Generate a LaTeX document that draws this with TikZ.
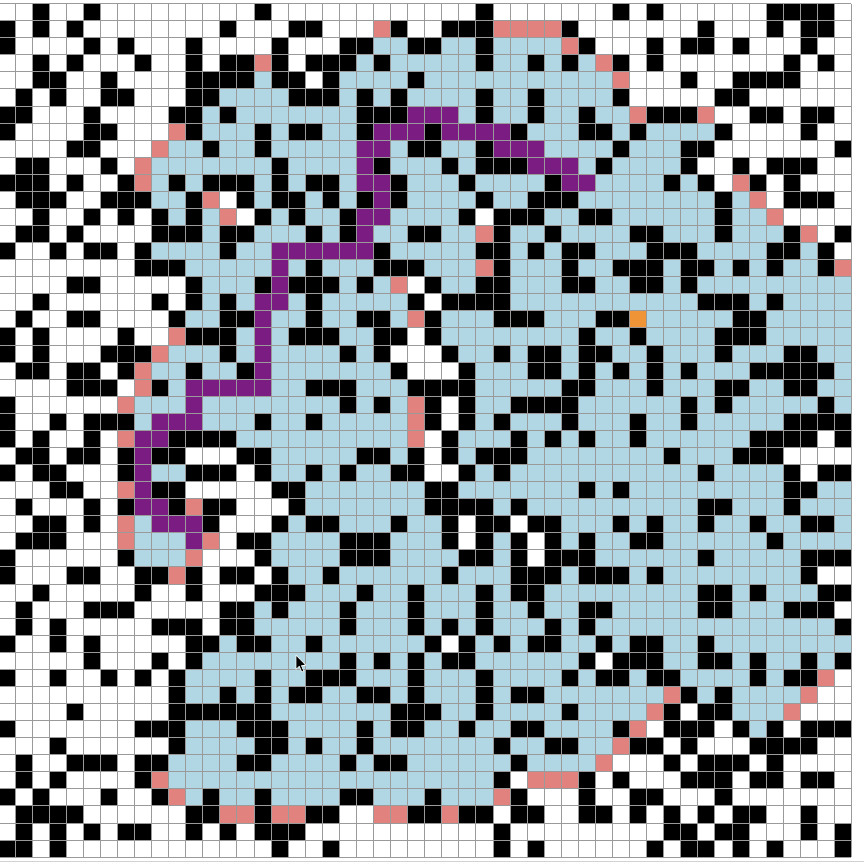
\documentclass[tikz,border=0pt]{standalone}
\definecolor{cellk}{HTML}{000000}
\definecolor{cellb}{HTML}{B0D7E3}
\definecolor{cellr}{HTML}{E2827F}
\definecolor{cellp}{HTML}{7B1C82}
\definecolor{cello}{HTML}{F09438}
\definecolor{gridgray}{HTML}{9A9A9A}
\newcount\cellc
\def\gridrow#1#2{\def\currow{#1}\cellc=0 \gridrowloop#2\relax}
\def\gridrowloop#1{\ifx#1\relax\else\paintcell#1\advance\cellc by 1 \expandafter\gridrowloop\fi}
\def\paintcell#1{\if#1w\else\fill[cell#1] ({-2.07+\the\cellc*17.07},{3.6+\currow*17.07}) rectangle ++(17.07,17.07);\fi}
\tikzset{gridline/.style={draw=gridgray,line width=0.9pt}}
\begin{document}
\begin{tikzpicture}[x=1pt,y=-1pt]
\useasboundingbox (0,0) rectangle (864,864);
\fill[white] (0,0) rectangle (864,864);
\gridrow{0}{wwkwwkwwwwwwwwwkw wwwwwwwwwwwkwwwww wwkwkwwwwwwkkkkw}
\gridrow{1}{kwkwkwwwwwwwwkwww kkwwwrkwwkkkrrrrk wwwwwwwkwwwkwkkw}
\gridrow{2}{kwwwwkwkwwwkwwwwk wwwkkbbkkbbkbbbbr kwwwkwkkwkwwwkww}
\gridrow{3}{wwkwkwwwkwwkwkkrk wkkkbkbbbbbkbbkbk brkwkwwwwwwwkwkw}
\gridrow{4}{wwkkwwkwwwwkkkkbk kwkbbbbkbbbbbbbbb bbrwwwkwwkkkkwww}
\gridrow{5}{wkwkwwkkwwwkkbbbb kkkbkbkbbbbkbbkbb bbkwwwwwkkwwwwww}
\gridrow{6}{kkwwwkwwwwkkbkbbb bbbbkkkpppbkbbkbb kbbrkkkrwwkkwkkw}
\gridrow{7}{kwwwwkkwwwrkbbbkb kkbbkpppkppppkbbb kkbkbbbbkwwwwkww}
\gridrow{8}{wwwwkkwwwrbbkbbkb bbbbppbkkbbkpppbb bbkbbbkkwwwwwwwk}
\gridrow{9}{wkkwwwkwrbbbbbbbk bbbbpkbbbkbkkkppp bkbbbbkwwkwkkkww}
\gridrow{10}{kkkwkwwkrbkbkkkbk bkkbppkbbbkbbbbkp pbbbbkbkwrkwkwww}
\gridrow{11}{wkkkwwkkkbbkrwkbk kbkbkpkbbbbkbbkkk bbbbbbbbkbrwkkkw}
\gridrow{12}{wwkwwkwkwkbkbrwkb kbbkppbbbbkwkkkbb kkbbbbbbkbbrwwww}
\gridrow{13}{wkkwkwwwwkkkbkkbb bkbkpbbkkbbrkbbkb bbbkkbbbkbbbkrwk}
\gridrow{14}{kwwkwkkwkbbbbkbbp pppppkbbbbbkkbkbk kbbbkkkbbbbkkbkw}
\gridrow{15}{wwwwwwwwkkkbbbbbp bkbbbkkkbbbrkbbbk bbkkkbkkbkbkbbkr}
\gridrow{16}{wwwwkkwwwwwkbbbkp kkkbkbrwkbbkkbbbk kbbkkbkbbbbbbbbb}
\gridrow{17}{wwkwwwwwwkwkbkbpp bkbbbbbkwkkkkbbbb bbbbbbbkkkbkbbbb}
\gridrow{18}{wkwwkkwwwwkbbkkpb bkbbkkbrkbbbkkkbb bkkobbbbbkkbbbbb}
\gridrow{19}{kwkwwwwkwwrkkkbpb kkkbbkkwkbbbbbbbb kbbkbbbbkkkbbbbb}
\gridrow{20}{kwkwwwkkkrbbbkbpb bbbkbkwwwkbbkbkkb kkbbkbbbkbbbkkbb}
\gridrow{21}{wkkwkkwkrbbkbbkpb bbbbbbkwwwkbbbkkb kbkbkbkbbbkkkkkb}
\gridrow{22}{wwwwkkkwrkbpppppb bkkkbbbkkkkbbbbbk kbbbkbbbkkbbkkbb}
\gridrow{23}{kwwwwwwrbbbpbbbbb bbbkbkbrkwkbbkkkk bbbbbbkbkbbbbbkb}
\gridrow{24}{kwwkwkkkbpppbbbkb bkbbbbbrkwkbkbbbk bbbkbbkbbbbbkkkk}
\gridrow{25}{kwkwwkwrppkkkkbbb bbbbbbbrwkbbbkbkb kbbkbbbbbbkkkkwk}
\gridrow{26}{wkkwkkwkpkkwwwkkb bbbbkkbkwkbkkkbbb bbbbbkbbbkkkwwww}
\gridrow{27}{kwkkwwwkpbbkkkwkb bkbkbbkkwwkbkbbbb bbbbbbbkbbbbkwkk}
\gridrow{28}{wwwkkwwrpkkwwwwwk kbbbbbbbkkbbbbbbb kbkbbbbbbbbbkkbb}
\gridrow{29}{wkwwwkwkppkrkkwww kbbbbbbbkkkkbkbbb bbbbbbbkkbbbkbbb}
\gridrow{30}{wwkkwkwrbpppkwwwk bkkbbbkbbkwkkwkkb bbkbkbbkbbkbbkkb}
\gridrow{31}{wkkkwwwrbbbprwkkb bbbkkkbbbkwkbkwkb kbbkkbbbbbbkbbbb}
\gridrow{32}{kwwwwwwkbbbrwwwkb bbbkkkbbbbkkbkwkk kbbbbbbkbbbbbkkk}
\gridrow{33}{kwwwkkwwkkrkwkkwk bbkbbbbbbkbbbkkkb kkkbkbbbbbbbbkww}
\gridrow{34}{wwkwwwwwkwwkwwwkk kbbbkbbkbbbkbkkbb bbbbbbbkkbkbbbkk}
\gridrow{35}{wkwwwkkkwwwwwkkbk bbbkbbbkbbbkbbkbb kkbbbbbkkbbbkkkw}
\gridrow{36}{wkwkwwwwwkkkwkkbb bbbkbbbkbkbkbbbkb kbbbbbbbbbbbbbbk}
\gridrow{37}{kwwkwkwwwwwkkbkkb bkbbbbbbkwkbkbkkb bkbkkbbkbbbbbbbb}
\gridrow{38}{wwwwwkwwwkwkbbbbb bbbkbkbkbkkbbbbbb kwkkkbbkkbkbbkbk}
\gridrow{39}{kwwkwwkwkwkbbbbkb bkkkbbbkbbbkbbbbk bkkbkkbbbbkbkkrw}
\gridrow{40}{wwwwwwwwwwkbbkbkb kkbbkkbkbbbkbkkbb bbbbbrkbkbbbbrww}
\gridrow{41}{wwwwkwwwwwkkkkkkb bbbbbbkkkbbkbbbbk bbbbrkwkkbbbrwww}
\gridrow{42}{kwwwwwwwkkkbbbkkk bbbbkbkkbbkbbkkbb bbkrwkkkwkbkwkkk}
\gridrow{43}{wwwkwwwwwwkbbbbkk bkbbkbbbbbbbkbbkk bbrkkwkwwwkkkkww}
\gridrow{44}{wkwwkkkwkkbbbbkkb bbbkbkkbbbbbbkbbb brwwwkwkkkwkwwww}
\gridrow{45}{wkwkwwwwkrbbbbbbb bbbbbbbbbbbbkwrrr kwkwwwkkkwkkwkkw}
\gridrow{46}{kwkwwwkwwkrbkbbkb bbbkkbbbkbbbrkwww kwwkkwwwkwwwwwww}
\gridrow{47}{wkkkkwwwwwwkkrrkr rkkwwrrkkrkkwkkww kkwkwkwkwkkwwkww}
\gridrow{48}{wkwkwkwkkwwkwkwkk kwwwwwwwwwwwkwwww wwwwwkkwkkwwwkwk}
\gridrow{49}{kkwkwwwwwwwwwwwwk wwkwwwwwwwwwkwkww wwwwkwkkwkwkwwwk}
\foreach \i in {0,...,50} {
  \draw[gridline] ({-2.07+\i*17.07},3.6) -- ({-2.07+\i*17.07},{3.6+50*17.07});
  \draw[gridline] (-2.07,{3.6+\i*17.07}) -- ({-2.07+50*17.07},{3.6+\i*17.07});
}
\draw[gray!35,line width=0.8pt] (0,861.5) -- (864,861.5);
\filldraw[fill=black,draw=white,line width=0.6pt,line join=round]
  (296,655) -- (296,669.5) -- (299.3,666.3) -- (301.8,672) -- (303.8,671.1) -- (301.4,665.6) -- (306,665.4) -- cycle;
\end{tikzpicture}
\end{document}
